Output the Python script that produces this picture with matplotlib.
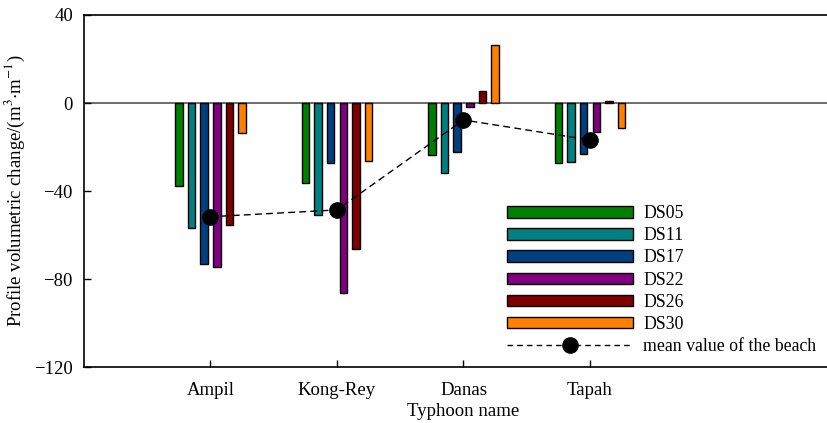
import matplotlib.pyplot as plt
from matplotlib.lines import Line2D
import numpy as np

plt.rcParams['font.family'] = ['Liberation Serif', 'DejaVu Serif']
plt.rcParams['mathtext.fontset'] = 'stix'

# Typhoon events and beach profile changes (m3/m)
typhoons = ['Ampil', 'Kong-Rey', 'Danas', 'Tapah']
profiles = ['DS05', 'DS11', 'DS17', 'DS22', 'DS26', 'DS30']
ds05 = [-37.7, -36.2, -23.6, -27.1]
ds11 = [-56.8, -51.0, -32.0, -27.0]
ds17 = [-73.2, -27.3, -22.4, -23.2]
ds22 = [-74.4, -86.4, -1.7, -13.0]
ds26 = [-55.5, -66.4, 5.3, 1.0]
ds30 = [-13.5, -26.2, 26.4, -11.5]
beach_mean = [-51.7, -48.6, -7.7, -16.8]

colors = ['#008000', '#008080', '#004080', '#800080', '#800000', '#ff8000']
fs = 13.5

fig = plt.figure(figsize=(8.28, 4.23), dpi=100)
ax = fig.add_axes([84 / 828, 56 / 423, 759 / 828, 352 / 423])

x = np.arange(1, len(typhoons) + 1)
width = 0.06
handles = []
for k, (name, vals) in enumerate(zip(profiles, [ds05, ds11, ds17, ds22, ds26, ds30])):
    bars = ax.bar(x + (k - 2.5) * 0.1, vals, width, color=colors[k],
                  edgecolor='black', linewidth=1, label=name, zorder=2)
    handles.append(bars)

ax.axhline(0, color='#555555', linewidth=1.2, zorder=1)

line, = ax.plot(x, beach_mean, color='black', linestyle=(0, (5, 3)), linewidth=1,
                marker='o', markersize=11, zorder=3)
mean_handle = Line2D([], [], color='black', linestyle=(0, (4, 3)), linewidth=1,
                     marker='o', markersize=11)

ax.set_xlim(0, 6)
ax.set_ylim(-120, 40)
ax.set_yticks([-120, -80, -40, 0, 40])
ax.set_yticklabels(['\u2212120', '\u221280', '\u221240', '0', '40'])
ax.set_xticks(x)
ax.set_xticklabels(typhoons)
ax.tick_params(direction='in', labelsize=fs, length=5, width=1, pad=8)
ax.tick_params(axis='x', pad=11)
ax.spines['right'].set_visible(False)
for s in ['left', 'bottom', 'top']:
    ax.spines[s].set_linewidth(1.2)

ax.set_xlabel('Typhoon name', fontsize=fs, labelpad=3)
ax.set_ylabel('Profile volumetric change/(m$^{3}$$\\cdot$m$^{-1}$)', fontsize=fs, labelpad=5)

ax.legend(handles + [mean_handle], profiles + ['mean value of the beach'],
          loc='upper left', bbox_to_anchor=(0.548, 0.48), frameon=False,
          fontsize=12.8, handlelength=7.1, handleheight=0.62, labelspacing=0.29,
          handletextpad=0.55, borderaxespad=0)

fig.savefig('out.png', dpi=100)
